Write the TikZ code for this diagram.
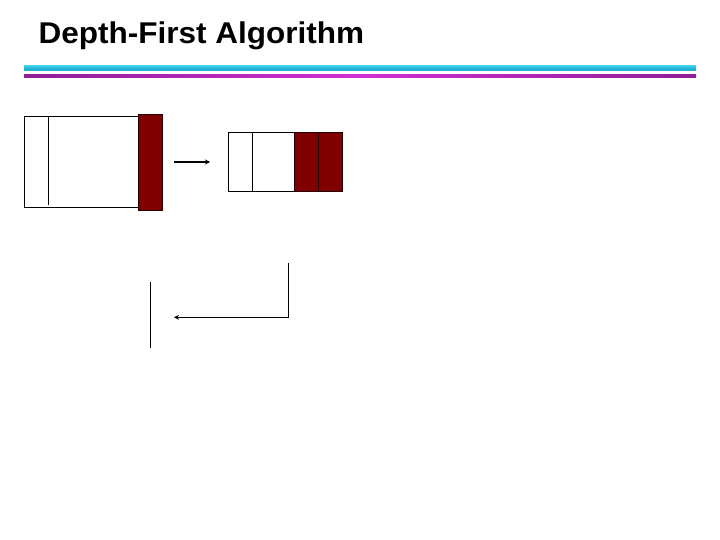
\documentclass[tikz,border=0pt]{standalone}
\usepackage{fontspec}
\setmainfont{Liberation Sans}
\usetikzlibrary{arrows.meta}
\definecolor{cyanbar}{HTML}{1FB2D2}
\definecolor{cyanlight}{HTML}{3CCBE6}
\definecolor{purplebar}{HTML}{8E1F96}
\definecolor{magentabar}{HTML}{D22FD2}
\definecolor{cellred}{HTML}{800000}
\tikzset{
  cellbox/.style={draw=black, line width=0.9pt, fill=white, inner sep=0pt, outer sep=0pt},
  redcell/.style={draw=black!70!cellred, line width=0.9pt, fill=cellred, inner sep=0pt, outer sep=0pt},
  divider/.style={draw=black, line width=0.9pt},
  conn/.style={draw=black, line width=1.6pt, -{Stealth[length=5pt,width=5pt]}},
  plainline/.style={draw=black, line width=0.9pt},
  titletext/.style={font=\bfseries\fontsize{30}{36}\selectfont, anchor=base west, inner sep=0pt, xscale=1.05}
}
\begin{document}
\begin{tikzpicture}[x=1pt,y=-1pt]
\useasboundingbox (0,0) rectangle (720,540);
% title
\node[titletext] (title) at (38.5,43.3) {Depth-First Algorithm};
% rules
\shade[top color=cyanlight, bottom color=cyanbar, middle color=cyanbar] (24,66) rectangle (696,71);
\shade[left color=purplebar, right color=purplebar, middle color=magentabar] (24,75) rectangle (696,77.5);
% left box
\node[cellbox, minimum width=114pt, minimum height=91pt] (boxA) at (81.2,162.2) {};
\draw[divider] (48.3,116.7) -- (48.3,205);
\node[redcell, minimum width=24pt, minimum height=96pt] (redA) at (150.5,162.3) {};
% arrow 1
\coordinate (a1s) at (174,162);
\coordinate (a1e) at (210,162);
\draw[conn] (a1s) -- (a1e);
% second box
\node[cellbox, minimum width=66pt, minimum height=59.4pt] (boxB) at (261.3,162) {};
\draw[divider] (252.3,132.3) -- (252.3,191.7);
\node[redcell, minimum width=24pt, minimum height=59.6pt] (redB1) at (306.3,162.1) {};
\node[redcell, minimum width=24.4pt, minimum height=59.6pt] (redB2) at (330.5,162.1) {};
% lower part
\coordinate (vl1) at (150.7,281.7);
\coordinate (vl2) at (150.7,347.7);
\draw[plainline] (vl1) -- (vl2);
\coordinate (l1) at (288.3,263.3);
\coordinate (l2) at (288.3,317.3);
\coordinate (l3) at (174,317.3);
\draw[conn] (l1) -- (l2) -- (l3);
\end{tikzpicture}
\end{document}
